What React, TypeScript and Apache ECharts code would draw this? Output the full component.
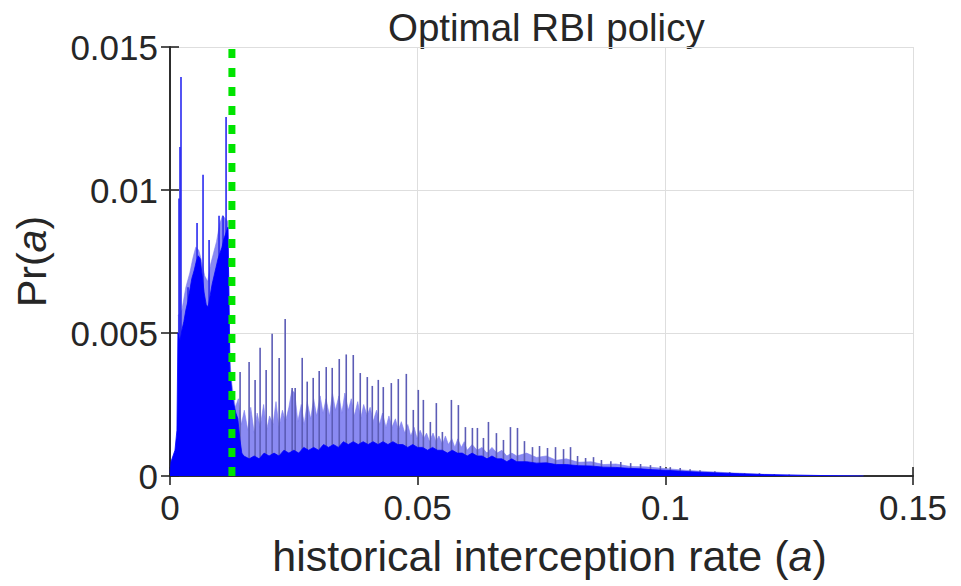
import React, { useEffect, useRef } from "react";
import * as echarts from "echarts";

// ---- data ----
const xTicks = [0, 0.05, 0.1, 0.15];
const yTicks = [0, 0.005, 0.01, 0.015];
const thresholdRate = 0.0125;

// solid (dark blue) part of the histogram, left of the threshold
const denseBase: [number, number][] = [
  [0.0, 0.0001], [0.0002, 0.0005], [0.0006, 0.0007], [0.001, 0.0009], [0.0014, 0.0016],
  [0.0016, 0.005], [0.002, 0.0047], [0.0024, 0.0051], [0.0028, 0.0054], [0.0032, 0.0058],
  [0.0036, 0.0061], [0.004, 0.0065], [0.0044, 0.0069], [0.0049, 0.0072], [0.0053, 0.0075],
  [0.0057, 0.0077], [0.0061, 0.0076], [0.0065, 0.007], [0.0069, 0.0064], [0.0073, 0.006],
  [0.0077, 0.0059], [0.0081, 0.0063], [0.0085, 0.0067], [0.0089, 0.007], [0.0093, 0.0073],
  [0.0097, 0.0076], [0.0101, 0.0078], [0.0105, 0.008], [0.0109, 0.0083], [0.0113, 0.0085],
  [0.0117, 0.0087], [0.0119, 0.0062], [0.0121, 0.0037], [0.0125, 0.0029], [0.0129, 0.0025],
  [0.0133, 0.0022], [0.0137, 0.002], [0.0141, 0.0013], [0.0145, 0.0008],
];

// solid part right of the threshold
const tailBase: [number, number][] = [
  [0.0149, 0.0007], [0.016, 0.0006], [0.017, 0.0007], [0.018, 0.0006], [0.019, 0.0008],
  [0.02, 0.0007], [0.021, 0.0008], [0.022, 0.0007], [0.023, 0.0009], [0.024, 0.0008],
  [0.025, 0.0009], [0.026, 0.0008], [0.027, 0.001], [0.028, 0.0009], [0.029, 0.001],
  [0.03, 0.0009], [0.031, 0.0011], [0.032, 0.001], [0.033, 0.0011], [0.034, 0.001],
  [0.035, 0.0012], [0.036, 0.0011], [0.037, 0.0012], [0.038, 0.0011], [0.039, 0.0012],
  [0.04, 0.0011], [0.041, 0.0012], [0.042, 0.0011], [0.043, 0.0012], [0.044, 0.0011],
  [0.045, 0.0012], [0.046, 0.0011], [0.047, 0.0011], [0.048, 0.001], [0.049, 0.0011],
  [0.05, 0.001], [0.051, 0.001], [0.052, 0.0009], [0.053, 0.001], [0.054, 0.0009],
  [0.055, 0.0009], [0.056, 0.0008], [0.057, 0.0009], [0.058, 0.0008], [0.059, 0.0008],
  [0.06, 0.0007], [0.061, 0.0008], [0.062, 0.0007], [0.063, 0.0007], [0.064, 0.0006],
  [0.065, 0.0007], [0.066, 0.0006], [0.067, 0.0006], [0.068, 0.0005], [0.069, 0.0006],
  [0.07, 0.0005], [0.072, 0.0005], [0.074, 0.00045], [0.076, 0.00046], [0.078, 0.0004],
  [0.08, 0.0004], [0.0825, 0.00036], [0.085, 0.00035], [0.0875, 0.00031], [0.09, 0.0003],
  [0.0925, 0.00027], [0.095, 0.00025], [0.0975, 0.00022], [0.1, 0.0002], [0.105, 0.00015],
  [0.11, 0.00011], [0.115, 0.00008], [0.12, 0.00005], [0.125, 0.00003], [0.13, 0.00002],
  [0.135, 0.00001], [0.14, 0.0],
];

// lighter, densely packed bins above the solid part
const hazeLeft: [number, number][] = [
  [0.0016, 0.0056], [0.0024, 0.0058], [0.0032, 0.0066], [0.004, 0.0071], [0.0046, 0.0076],
  [0.0052, 0.008], [0.0058, 0.0079], [0.0064, 0.0075], [0.007, 0.007], [0.0076, 0.0068],
  [0.0082, 0.0074], [0.0088, 0.0078], [0.0094, 0.0082], [0.01, 0.0088], [0.0106, 0.0091],
  [0.0112, 0.009], [0.0117, 0.0089], [0.0121, 0.004],
];
const hazeRight: [number, number][] = [
  [0.0125, 0.0032], [0.0132, 0.0024], [0.0138, 0.0027], [0.0144, 0.0018], [0.015, 0.0023],
  [0.0157, 0.0016], [0.0163, 0.0024], [0.017, 0.0015], [0.0176, 0.0022], [0.0182, 0.0017],
  [0.0189, 0.0025], [0.0195, 0.0016], [0.0201, 0.0021], [0.0208, 0.0018], [0.0214, 0.0026],
  [0.022, 0.0017], [0.0227, 0.0023], [0.0233, 0.0019], [0.024, 0.0024], [0.0246, 0.003],
  [0.0252, 0.0029], [0.0258, 0.0019], [0.0265, 0.0025], [0.0271, 0.0018], [0.0277, 0.0026],
  [0.0284, 0.002], [0.029, 0.0027], [0.0296, 0.0021], [0.0303, 0.0028], [0.0309, 0.0022],
  [0.0315, 0.0027], [0.0322, 0.0021], [0.0328, 0.0029], [0.0334, 0.0023], [0.0341, 0.0028],
  [0.0347, 0.0022], [0.0353, 0.0029], [0.036, 0.0023], [0.0366, 0.0027], [0.0372, 0.0021],
  [0.0379, 0.0026], [0.0385, 0.002], [0.0391, 0.0025], [0.0398, 0.0021], [0.0404, 0.0024],
  [0.041, 0.0019], [0.0417, 0.0023], [0.0423, 0.0018], [0.0429, 0.0022], [0.0436, 0.0017],
  [0.0442, 0.0021], [0.0448, 0.0017], [0.0455, 0.002], [0.0461, 0.0016], [0.0467, 0.0019],
  [0.0474, 0.0015], [0.048, 0.0018], [0.0486, 0.0014], [0.0493, 0.0017], [0.0499, 0.0013],
  [0.0505, 0.0016], [0.0512, 0.0013], [0.0518, 0.0015], [0.0524, 0.0012], [0.0531, 0.0015],
  [0.0537, 0.0012], [0.0543, 0.0014], [0.055, 0.0011], [0.0556, 0.0014], [0.0562, 0.0011],
  [0.0569, 0.0013], [0.0575, 0.001], [0.0581, 0.0013], [0.0588, 0.001], [0.0594, 0.0012],
  [0.06, 0.0009], [0.061, 0.0011], [0.062, 0.0009], [0.063, 0.001], [0.064, 0.0008],
  [0.065, 0.001], [0.066, 0.0008], [0.067, 0.0009], [0.068, 0.0007], [0.069, 0.0008],
  [0.07, 0.0007], [0.072, 0.0008], [0.074, 0.00065], [0.076, 0.0007], [0.078, 0.00055],
  [0.08, 0.0006], [0.0825, 0.00048], [0.085, 0.0005], [0.0875, 0.0004], [0.09, 0.00042],
  [0.093, 0.00033], [0.096, 0.00032], [0.1, 0.00026], [0.104, 0.0002], [0.108, 0.00016],
  [0.112, 0.00012], [0.116, 0.00009], [0.12, 0.00006], [0.125, 0.00004], [0.13, 0.00002],
  [0.135, 0.00001], [0.14, 0.0],
];

// isolated tall bins
const leftSpikes: [number, number][] = [
  [0.00182, 0.0097], [0.00202, 0.0115], [0.00222, 0.01395], [0.00364, 0.0066],
  [0.00546, 0.00885], [0.00667, 0.01053], [0.00789, 0.00825], [0.0099, 0.0091],
  [0.01071, 0.0091], [0.01132, 0.01255],
];
const rightSpikes: [number, number][] = [
  [0.01415, 0.00364], [0.01597, 0.00399], [0.01718, 0.00336], [0.01819, 0.00448],
  [0.01941, 0.00371], [0.02062, 0.00497], [0.02204, 0.00413], [0.02325, 0.00549],
  [0.02466, 0.00308], [0.02527, 0.00308], [0.02669, 0.00413], [0.0277, 0.0033],
  [0.02891, 0.00343], [0.03012, 0.00367], [0.03154, 0.00381], [0.03275, 0.00378],
  [0.03417, 0.00409], [0.03558, 0.00425], [0.037, 0.00423], [0.03841, 0.0036],
  [0.03983, 0.00346], [0.04084, 0.00315], [0.04205, 0.00336], [0.04306, 0.00311],
  [0.04468, 0.00325], [0.04609, 0.00339], [0.04771, 0.00357], [0.04912, 0.00231],
  [0.05013, 0.00301], [0.05115, 0.00266], [0.05256, 0.00189], [0.05377, 0.00255],
  [0.05499, 0.00154], [0.05681, 0.00266], [0.05822, 0.00248], [0.05964, 0.00171],
  [0.06105, 0.00168], [0.06206, 0.00168], [0.06328, 0.00133], [0.06429, 0.00189],
  [0.0659, 0.0015], [0.06732, 0.00126], [0.06873, 0.00171], [0.07015, 0.00168],
  [0.07156, 0.00122], [0.07318, 0.00101], [0.0746, 0.00105], [0.07621, 0.00098],
  [0.07783, 0.00101], [0.07945, 0.00094], [0.08086, 0.00101], [0.08228, 0.0007],
  [0.0839, 0.00063], [0.0855, 0.00066], [0.0871, 0.00056], [0.089, 0.00052],
  [0.091, 0.00049], [0.093, 0.00045], [0.095, 0.00042], [0.097, 0.00038],
  [0.099, 0.00035], [0.101, 0.00031], [0.103, 0.00028], [0.105, 0.00024],
  [0.107, 0.0002], [0.11, 0.00017], [0.113, 0.00014], [0.116, 0.0001],
  [0.119, 0.0001], [0.122, 0.00007], [0.125, 0.00005],
];

const FONT = "'Liberation Sans', Arial, Helvetica, sans-serif";
const TEXT = "#262626";
const fmt = (v: number) => String(parseFloat(v.toFixed(4)));

export default function App() {
  const ref = useRef<HTMLDivElement>(null);
  useEffect(() => {
    if (!ref.current) return;
    const chart = echarts.init(ref.current, null, { renderer: "svg" });
    const axisLine = { show: true, lineStyle: { color: TEXT, width: 1.6 } };
    const tick = { show: true, inside: true, length: 9, lineStyle: { color: TEXT, width: 1.6 } };
    const yMin = yTicks[0];
    const yMax = yTicks[yTicks.length - 1];
    const xBase = { type: "value", min: xTicks[0], max: xTicks[xTicks.length - 1], interval: xTicks[1] - xTicks[0] };
    const yBase = { type: "value", min: yMin, max: yMax, interval: yTicks[1] - yTicks[0] };
    const spikeItems = [
      ...rightSpikes.map((d) => ({ value: d, itemStyle: { color: "#5c5cb6" } })),
      ...leftSpikes.map((d) => ({ value: d, itemStyle: { color: "#2a2af0" } })),
    ];
    const richX = { i: { fontSize: 43, fontStyle: "italic", color: TEXT, fontFamily: FONT } };
    const richY = { i: { fontSize: 41, fontStyle: "italic", color: TEXT, fontFamily: FONT } };
    chart.setOption({
      animation: false,
      backgroundColor: "#ffffff",
      textStyle: { fontFamily: FONT },
      grid: { left: 170, right: 48, top: 47, bottom: 110, containLabel: false },
      graphic: [
        {
          type: "text",
          left: 548 - 160,
          top: 8,
          style: { text: "Optimal RBI policy", font: `38.5px ${FONT}`, fill: TEXT },
        },
      ],
      xAxis: [
        {
          ...xBase,
          position: "bottom",
          axisLine,
          axisTick: tick,
          splitLine: { show: true, lineStyle: { color: "#dedede", width: 1 } },
          axisLabel: { fontSize: 35, color: TEXT, margin: 14, fontFamily: FONT, formatter: fmt },
          name: "historical interception rate ({i|a})",
          nameLocation: "middle",
          nameGap: 58,
          nameTextStyle: { fontSize: 43, color: TEXT, fontFamily: FONT, rich: richX, padding: [0, 0, 0, 16] },
        },
        {
          ...xBase,
          position: "top",
          axisLine,
          axisTick: tick,
          splitLine: { show: false },
          axisLabel: { show: false },
        },
      ],
      yAxis: [
        {
          ...yBase,
          position: "left",
          axisLine,
          axisTick: tick,
          splitLine: { show: true, lineStyle: { color: "#dedede", width: 1 } },
          axisLabel: { fontSize: 35, color: TEXT, margin: 12, fontFamily: FONT, formatter: fmt },
          name: "Pr({i|a})",
          nameLocation: "middle",
          nameGap: 118,
          nameTextStyle: { fontSize: 41, color: TEXT, fontFamily: FONT, rich: richY },
        },
        {
          ...yBase,
          position: "right",
          axisLine,
          axisTick: tick,
          splitLine: { show: false },
          axisLabel: { show: false },
        },
      ],
      series: [
        {
          type: "line",
          name: "haze",
          z: 1,
          data: [...hazeLeft, ...hazeRight],
          showSymbol: false,
          symbol: "none",
          lineStyle: { width: 0.6, color: "#7d7df0" },
          areaStyle: { color: "#8a8af2", opacity: 1 },
          silent: true,
        },
        {
          type: "bar",
          name: "spikes",
          z: 2,
          barWidth: 1.6,
          data: spikeItems,
          silent: true,
        },
        {
          type: "line",
          name: "base",
          z: 3,
          data: [...denseBase, ...tailBase],
          showSymbol: false,
          symbol: "none",
          lineStyle: { width: 0.8, color: "#0000ff" },
          areaStyle: { color: "#0000ff", opacity: 1 },
          silent: true,
        },
        {
          type: "line",
          name: "threshold",
          z: 4,
          data: [
            [thresholdRate, yMin],
            [thresholdRate, yMax],
          ],
          showSymbol: false,
          symbol: "none",
          lineStyle: { color: "#00e400", width: 7, type: [9, 10], cap: "butt" },
          silent: true,
        },
      ],
    });
    return () => chart.dispose();
  }, []);
  return (
    <div
      ref={ref}
      style={{ position: "fixed", left: 0, top: 0, width: 961, height: 586, background: "#fff" }}
    />
  );
}
